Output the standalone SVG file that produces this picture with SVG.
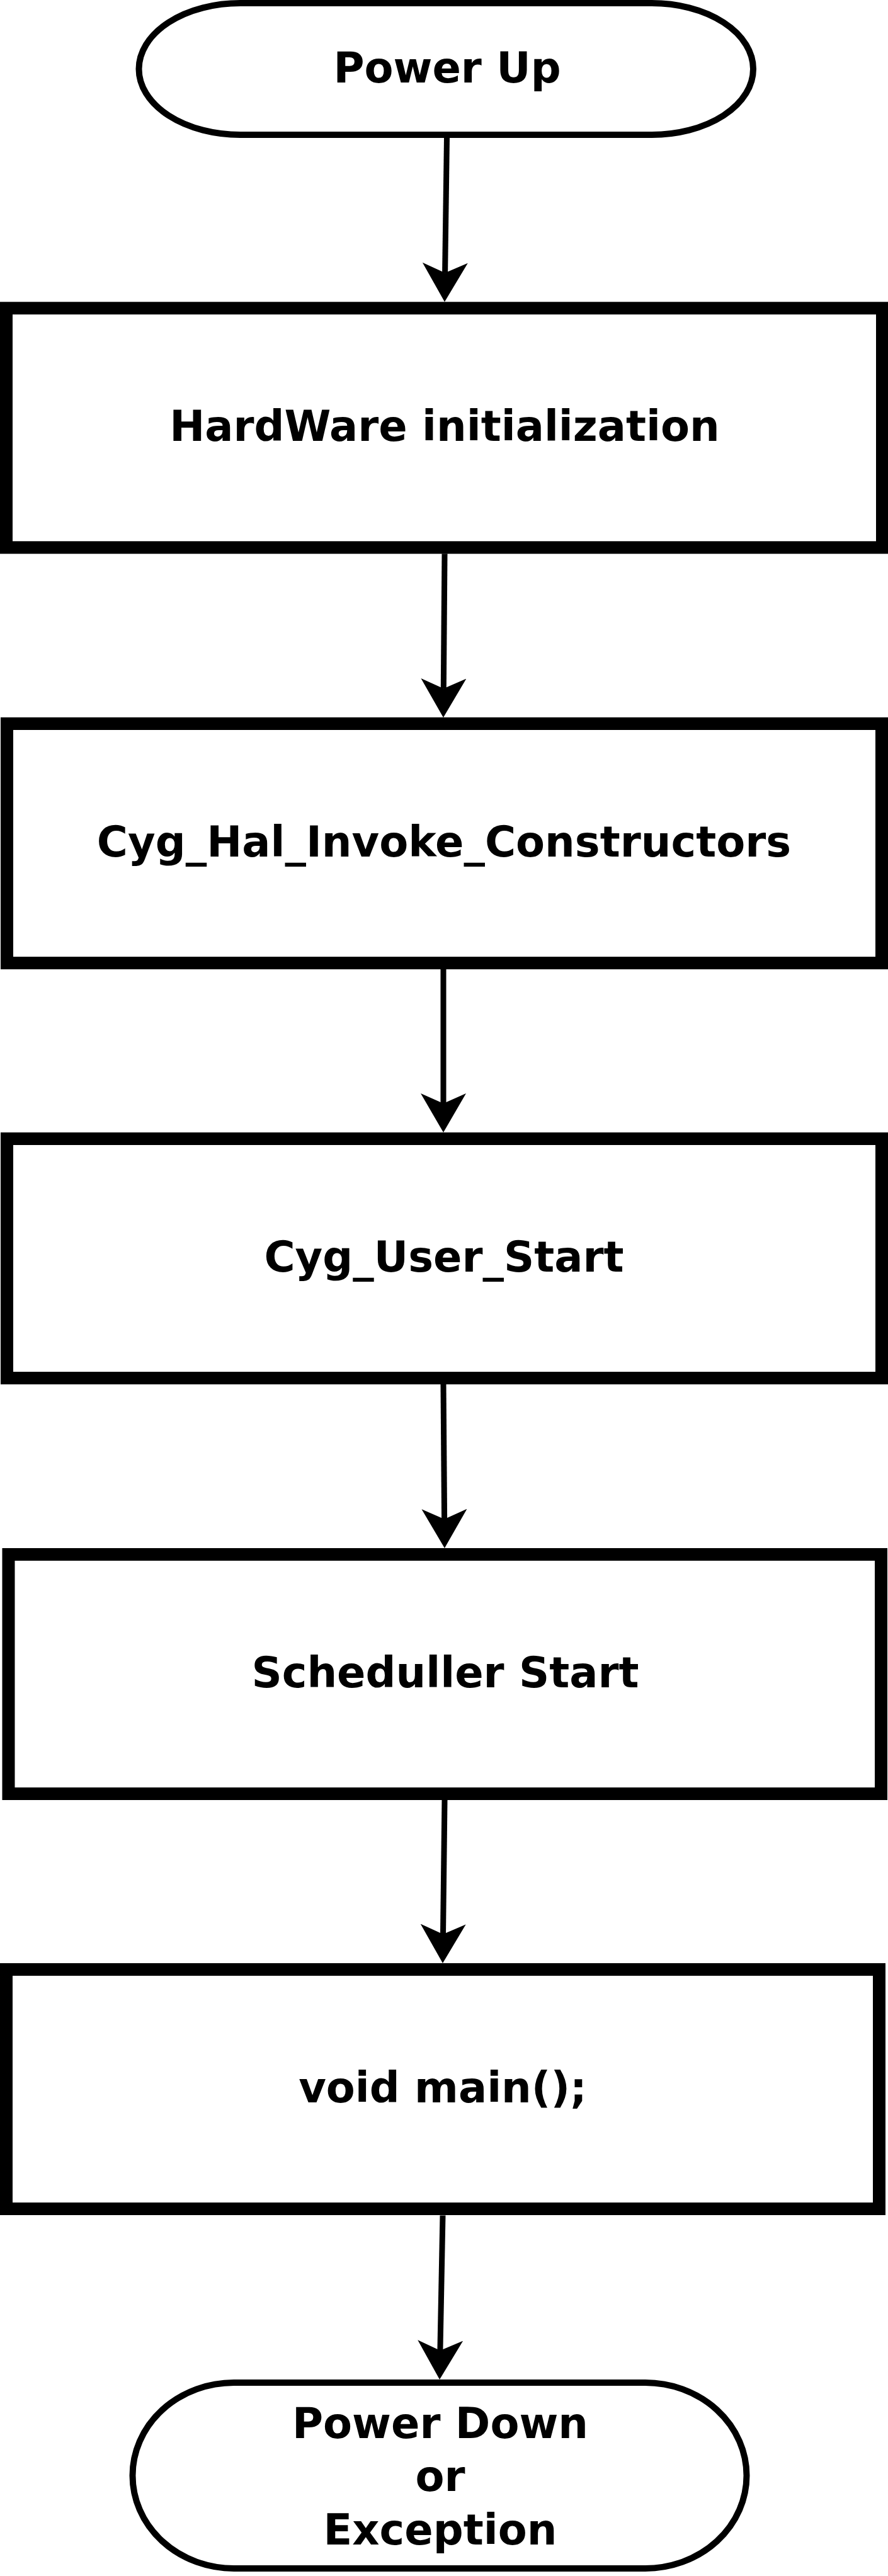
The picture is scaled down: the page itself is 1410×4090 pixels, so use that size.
<svg xmlns="http://www.w3.org/2000/svg" width="1410" height="4090" viewBox="0 0 1410 4090">
<style>
  .term { fill: #ffffff; stroke: #000000; stroke-width: 10; }
  .box { fill: #ffffff; stroke: #000000; stroke-width: 20; }
  .lbl { font-family: "DejaVu Sans", "Liberation Sans", sans-serif; font-weight: bold; font-size: 67px; fill: #000000; text-anchor: middle; }
  .conn { fill: none; stroke: #000000; stroke-width: 9; marker-end: url(#arrow); }
</style>
<defs>
  <marker id="arrow" viewBox="-16 -36 62 72" markerWidth="62" markerHeight="72" refX="0" refY="0" markerUnits="userSpaceOnUse" orient="auto">
    <path d="M46,0 L-16,-36 L0,0 L-16,36 Z" fill="#000000"/>
  </marker>
</defs>
<rect width="1410" height="4090" fill="#ffffff"/>
<g id="connectors">
  <path class="conn" d="M709.5,219 L706.6,433.3"/>
  <path class="conn" d="M706,879.3 L704.3,1093.3"/>
  <path class="conn" d="M704,1539 L704,1752"/>
  <path class="conn" d="M704,2198 L705.6,2412"/>
  <path class="conn" d="M706,2857.5 L703.5,3071"/>
  <path class="conn" d="M703,3517.5 L698.9,3732"/>
</g>
<g id="power-up">
  <rect class="term" x="220.5" y="5" width="975.5" height="209" rx="161" ry="104.5"/>
  <text class="lbl" x="710" y="131">Power Up</text>
</g>
<g id="hw-init">
  <rect class="box" x="10" y="489.3" width="1391" height="380"/>
  <text class="lbl" x="706" y="700">HardWare initialization</text>
</g>
<g id="invoke-constructors">
  <rect class="box" x="11" y="1149" width="1389" height="380"/>
  <text class="lbl" x="705" y="1359.5">Cyg_Hal_Invoke_Constructors</text>
</g>
<g id="user-start">
  <rect class="box" x="11" y="1808" width="1389" height="380"/>
  <text class="lbl" x="705" y="2018.5">Cyg_User_Start</text>
</g>
<g id="scheduler-start">
  <rect class="box" x="13.5" y="2468" width="1385.5" height="380"/>
  <text class="lbl" x="707" y="2678.5">Scheduller Start</text>
</g>
<g id="main">
  <rect class="box" x="10" y="3127" width="1386" height="380"/>
  <text class="lbl" x="703" y="3338">void main();</text>
</g>
<g id="power-down">
  <rect class="term" x="210.5" y="3783" width="975" height="295" rx="161" ry="147.5"/>
  <text class="lbl" x="699" y="3871">Power Down</text>
  <text class="lbl" x="699" y="3955">or</text>
  <text class="lbl" x="699" y="4040">Exception</text>
</g>
</svg>
